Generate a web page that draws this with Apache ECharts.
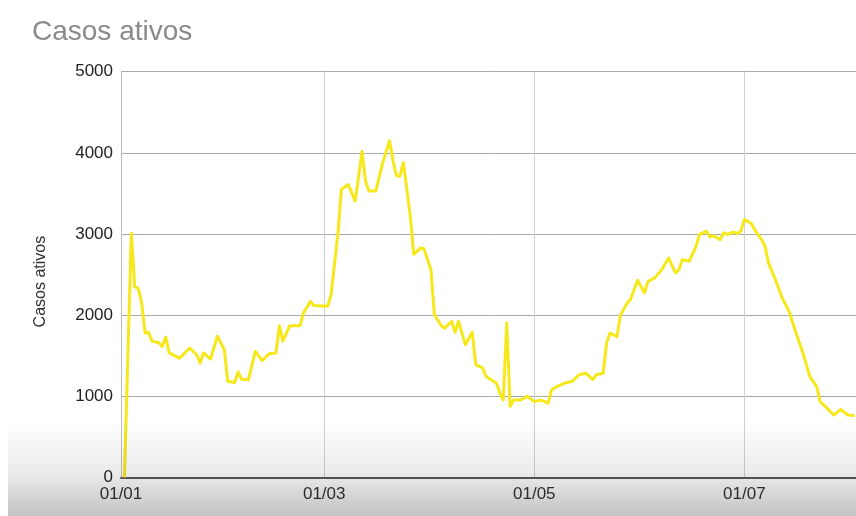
<!DOCTYPE html>
<html>
<head>
<meta charset="utf-8">
<title>Casos ativos</title>
<script src="https://cdn.jsdelivr.net/npm/echarts@6/dist/echarts.min.js"></script>
<style>
  html, body { margin: 0; padding: 0; background: #ffffff; }
  #chart { width: 856px; height: 516px; }
</style>
</head>
<body>
<div id="chart"></div>
<script>
// Active cases, 2021 (sampled days)
const dates = [
  '2021-01-02','2021-01-04','2021-01-05','2021-01-06','2021-01-07','2021-01-08','2021-01-09','2021-01-10',
  '2021-01-12','2021-01-13','2021-01-14','2021-01-15','2021-01-18','2021-01-21','2021-01-23','2021-01-24',
  '2021-01-25','2021-01-27','2021-01-29','2021-01-31','2021-02-01','2021-02-03','2021-02-04','2021-02-05',
  '2021-02-07','2021-02-09','2021-02-11','2021-02-13','2021-02-15','2021-02-16','2021-02-17','2021-02-19',
  '2021-02-22','2021-02-23','2021-02-25','2021-02-26','2021-03-02','2021-03-03','2021-03-05','2021-03-06',
  '2021-03-08','2021-03-10','2021-03-12','2021-03-13','2021-03-14','2021-03-16','2021-03-18','2021-03-20',
  '2021-03-21','2021-03-22','2021-03-23','2021-03-24','2021-03-26','2021-03-27','2021-03-29','2021-03-30',
  '2021-04-01','2021-04-02','2021-04-04','2021-04-05','2021-04-07','2021-04-08','2021-04-09','2021-04-11',
  '2021-04-13','2021-04-14','2021-04-16','2021-04-17','2021-04-19','2021-04-20','2021-04-21','2021-04-22',
  '2021-04-23','2021-04-24','2021-04-25','2021-04-27','2021-04-29','2021-05-01','2021-05-03','2021-05-05',
  '2021-05-06','2021-05-08','2021-05-10','2021-05-12','2021-05-14','2021-05-16','2021-05-18','2021-05-19',
  '2021-05-21','2021-05-22','2021-05-23','2021-05-25','2021-05-26','2021-05-28','2021-05-29','2021-05-31',
  '2021-06-02','2021-06-03','2021-06-05','2021-06-07','2021-06-09','2021-06-11','2021-06-12','2021-06-13',
  '2021-06-15','2021-06-17','2021-06-18','2021-06-20','2021-06-21','2021-06-22','2021-06-24','2021-06-25',
  '2021-06-26','2021-06-28','2021-06-29','2021-06-30','2021-07-01','2021-07-03','2021-07-04','2021-07-06',
  '2021-07-07','2021-07-08','2021-07-10','2021-07-12','2021-07-14','2021-07-16','2021-07-18','2021-07-20',
  '2021-07-22','2021-07-23','2021-07-25','2021-07-27','2021-07-29','2021-07-31','2021-08-02'
];

const activeCases = [
  0, 3010, 2350, 2330, 2150, 1780, 1790, 1680,
  1660, 1615, 1730, 1535, 1470, 1595, 1510, 1410,
  1535, 1460, 1740, 1575, 1185, 1170, 1300, 1210,
  1205, 1555, 1440, 1525, 1535, 1870, 1680, 1870,
  1870, 2030, 2170, 2120, 2110, 2250, 3015, 3550,
  3610, 3405, 4020, 3650, 3530, 3530, 3880, 4150,
  3900, 3715, 3715, 3880, 3220, 2750, 2830, 2815,
  2560, 2005, 1870, 1840, 1925, 1790, 1925, 1635,
  1790, 1390, 1350, 1245, 1190, 1165, 1040, 955,
  1905, 875, 955, 955, 1000, 935, 955, 915,
  1080, 1130, 1165, 1185, 1265, 1285, 1205, 1265,
  1285, 1660, 1780, 1735, 2000, 2150, 2200, 2430,
  2275, 2415, 2460, 2560, 2705, 2520, 2560, 2685,
  2665, 2850, 2995, 3035, 2965, 2980, 2930, 3015,
  2995, 3025, 3005, 3035, 3180, 3130, 3055, 2930,
  2850, 2645, 2440, 2210, 2045, 1780, 1535, 1245,
  1120, 935, 855, 770, 840, 770, 760
];

const yTicks = [0, 1000, 2000, 3000, 4000, 5000];
const xStart = '2021-01-01';
const xEnd = '2021-08-02 10:00';

const chart = echarts.init(document.getElementById('chart'), null, { renderer: 'canvas' });

const labelFont = '"Liberation Sans", Arial, sans-serif';

chart.setOption({
  animation: false,
  backgroundColor: '#ffffff',
  title: {
    text: 'Casos ativos',
    left: 27,
    top: 13,
    textStyle: { color: '#8a8a8a', fontSize: 28, fontWeight: 'normal', fontFamily: labelFont }
  },
  grid: { left: 121, right: 0, top: 71.7, bottom: 38.5, containLabel: false },
  xAxis: {
    type: 'time',
    min: xStart,
    max: xEnd,
    splitNumber: 3,
    minInterval: 55 * 24 * 3600 * 1000,
    axisLine: { show: true, lineStyle: { color: '#5a5a5a', width: 2 } },
    axisTick: { show: false },
    axisLabel: {
      formatter: '{dd}/{MM}',
      color: '#333333',
      fontSize: 17,
      fontFamily: labelFont,
      margin: 8,
      showMinLabel: true,
      showMaxLabel: false,
      hideOverlap: false
    },
    splitLine: { show: true, lineStyle: { color: '#cfcfcf', width: 1 } }
  },
  yAxis: {
    type: 'value',
    min: yTicks[0],
    max: yTicks[yTicks.length - 1],
    interval: yTicks[1] - yTicks[0],
    name: 'Casos ativos',
    nameLocation: 'middle',
    nameGap: 72,
    nameRotate: 90,
    nameTextStyle: { color: '#333333', fontSize: 16, fontFamily: labelFont, padding: [0, 14, 0, 0] },
    axisLine: { show: true, lineStyle: { color: '#bdbdbd', width: 1 } },
    axisTick: { show: false },
    axisLabel: {
      color: '#222222',
      fontSize: 17,
      fontFamily: labelFont,
      margin: 8,
      formatter: (v) => String(v)
    },
    splitLine: { show: true, lineStyle: { color: '#a9a9a9', width: 1 } }
  },
  series: [{
    type: 'line',
    data: dates.map((d, i) => [d, activeCases[i]]),
    showSymbol: false,
    smooth: false,
    clip: true,
    lineStyle: { color: '#f6e81a', width: 3, join: 'round' },
    itemStyle: { color: '#f6e81a' }
  }],
  graphic: [{
    type: 'rect',
    z: 100,
    silent: true,
    shape: { x: 8, y: 420, width: 848, height: 96 },
    style: {
      fill: new echarts.graphic.LinearGradient(0, 0, 0, 1, [
        { offset: 0, color: 'rgba(0,0,0,0)' },
        { offset: 0.55, color: 'rgba(0,0,0,0.08)' },
        { offset: 1, color: 'rgba(0,0,0,0.24)' }
      ])
    }
  }]
});
</script>
</body>
</html>
